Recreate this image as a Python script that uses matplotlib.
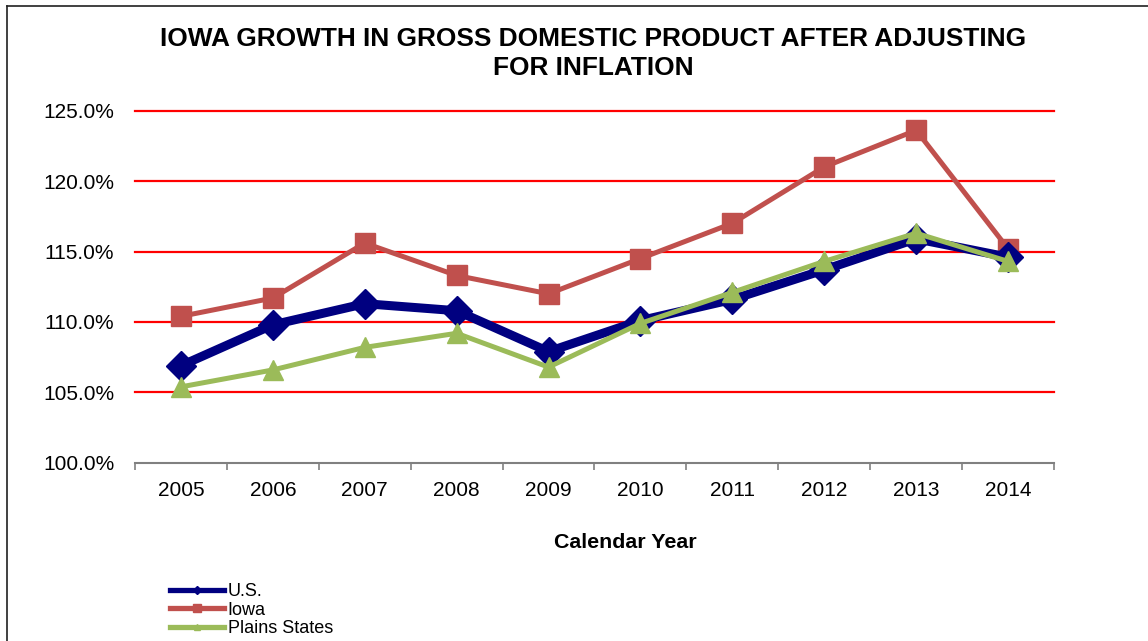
import matplotlib
matplotlib.use("Agg")
import matplotlib.pyplot as plt
from matplotlib.lines import Line2D
from matplotlib.ticker import FuncFormatter, FixedLocator

plt.rcParams['font.family'] = ['Liberation Sans', 'DejaVu Sans']

years = ['2005', '2006', '2007', '2008', '2009', '2010', '2011', '2012', '2013', '2014']
us = [106.9, 109.8, 111.3, 110.8, 107.9, 110.1, 111.6, 113.7, 115.9, 114.6]
iowa = [110.4, 111.7, 115.6, 113.3, 112.0, 114.5, 117.0, 121.0, 123.6, 115.2]
plains = [105.4, 106.6, 108.2, 109.2, 106.8, 109.9, 112.1, 114.3, 116.3, 114.3]
yticks = [100, 105, 110, 115, 120, 125]

fig = plt.figure(figsize=(11.48, 6.41), dpi=100)
ax = fig.add_axes([0.1176, 0.2777, 0.8005, 0.5499])

x = range(len(years))
for v in yticks[1:]:
    ax.axhline(v, color='#FF0000', lw=1.6, zorder=1, clip_on=False)

ax.plot(x, us, color='#000080', lw=6.5, marker='D', ms=15, zorder=3, clip_on=False)
ax.plot(x, iowa, color='#C0504D', lw=3.6, marker='s', ms=14, zorder=2, clip_on=False)
ax.plot(x, plains, color='#9BBB59', lw=3.6, marker='^', ms=15, zorder=4, clip_on=False)

ax.set_xlim(-0.5, len(years) - 0.5)
ax.set_ylim(100, 125)
ax.set_yticks(yticks)
ax.yaxis.set_major_formatter(FuncFormatter(lambda v, p: f'{v:.1f}%'))
ax.set_xticks(list(x))
ax.set_xticklabels(years)
ax.xaxis.set_minor_locator(FixedLocator([i - 0.5 for i in range(len(years) + 1)]))
ax.tick_params(axis='x', which='major', length=0, pad=13, labelsize=15)
ax.tick_params(axis='x', which='minor', length=5, width=1.2, color='#808080', direction='out')
ax.tick_params(axis='y', length=0, pad=15, labelsize=15)

for s in ['top', 'right', 'left']:
    ax.spines[s].set_visible(False)
ax.spines['bottom'].set_color('#808080')
ax.spines['bottom'].set_linewidth(1.5)

fig.text(0.517, 0.9166, 'IOWA GROWTH IN GROSS DOMESTIC PRODUCT AFTER ADJUSTING\nFOR INFLATION',
         ha='center', va='center', fontsize=18.9, fontweight='bold', linespacing=1.3)
fig.text(0.545, 0.154, 'Calendar Year', ha='center', va='center', fontsize=15.4, fontweight='bold')

handles = [
    Line2D([], [], color='#000080', lw=3.8, marker='D', ms=4),
    Line2D([], [], color='#C0504D', lw=3.8, marker='s', ms=6),
    Line2D([], [], color='#9BBB59', lw=3.8, marker='^', ms=5),
]
fig.legend(handles, ['U.S.', 'Iowa', 'Plains States'], loc='upper left',
           bbox_to_anchor=(0.148, 0.090), frameon=False, fontsize=13,
           handlelength=3.0, handletextpad=0.2, labelspacing=0.08, borderpad=0, borderaxespad=0)

# chart border (top and left edges visible)
fig.add_artist(Line2D([7 / 1148, 1], [1 - 6 / 641, 1 - 6 / 641], color='#202020', lw=1.2, transform=fig.transFigure))
fig.add_artist(Line2D([7 / 1148, 7 / 1148], [0, 1 - 6 / 641], color='#202020', lw=1.2, transform=fig.transFigure))

fig.savefig('out.png', dpi=100)
